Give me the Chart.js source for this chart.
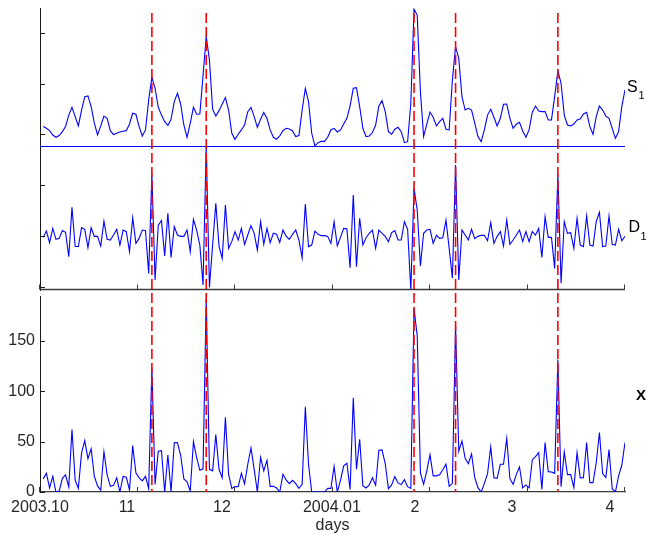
<!DOCTYPE html>
<html><head><meta charset="utf-8">
<script src="https://cdn.jsdelivr.net/npm/chart.js@4/dist/chart.umd.min.js"></script>
<style>html,body{margin:0;padding:0;background:#fff}#wrap{position:relative;width:647px;height:535px}</style>
</head><body><div id="wrap"><canvas id="c" width="647" height="535"></canvas></div>
<script>
// ---- data (day index 1..183, Oct 2003 - Mar 2004) ----
const seriesS1 = [
 7.6,5.9,3.6,-0.7,-3,-1.3,2.6,7.6,19,26.7,
 17.5,8.3,24,37.3,38,27.4,11,-0.7,8.3,18,
 15.8,3.6,-0.3,1,2.3,3,3.6,10.2,20.8,19.8,
 7.6,-1.7,4.3,34,56.4,45.5,26.7,19,12.5,8.6,
 14.9,32.3,40.6,30,9.2,-3,11,26.7,19.8,20,
 57.8,96.7,73.6,24.8,18,23.4,30,36.3,24,1,
 -5,0,4.3,9.2,22.4,26.7,17.5,6.9,14.9,21.5,
 15.8,4.3,-3,-5,-1.7,3.6,5.9,5.3,3.3,-2.3,
 -1.3,24,45.5,32.3,1,-11.5,-8.3,-7,-7,-3,
 4.3,5.9,2.3,4.3,10.2,15.8,28,45.5,46.2,27.4,
 5.9,-2.3,-1.7,1.7,9.2,28,33.3,22.4,2.6,0,
 5,6.9,2.6,-8.3,-7.3,30.7,123.8,118,42.2,-2.3,
 10,22,16.8,8.3,12.5,15.8,5,4.3,53.8,86.8,
 75,37.3,24,25.7,24,11,-2.3,-7.3,4.3,19,
 24.8,16.8,8.3,15.8,29.7,30,15.8,5.9,9.9,11.9,
 3.3,-3,4.3,21.8,28,23,22.4,22.4,14.2,14.2,
 37.3,63,50.5,19,9.2,8.3,10.2,14.2,15.2,20.1,
 21.8,7.6,0,17.5,28,24,18,15.8,5.9,-4,
 2.6,27.4,44
];
const seriesD1 = [
 -1,5.2,-6.2,7.8,-2.9,-2,5.6,3.9,-20,28.4,
 -10,-10,8.5,6.9,-11,8.5,0,0,-9.5,15,
 -2.9,-3.6,1.3,6.9,-8.5,6.2,4.6,-15,18.3,-6.9,
 -2,6.2,5.6,-36.3,61,-42.8,11,15.4,-19.3,22.6,
 -20.6,9.5,1.3,0,0,6.2,-15,16.7,6.2,-8.5,
 -47.7,88,-50,-8.5,32.4,-9.5,-21.6,30.7,-11.8,-5.2,
 4.6,-3.6,7.8,-7.8,1.3,10.5,3,-13.4,14.4,-7.8,
 7.8,-6.2,3,2,-5.9,6.2,0.3,-2.9,2,6.2,
 -3.6,-21,31.7,-10,-8.5,5.2,2,0.7,0.7,0,
 -6.9,14.4,-9.2,-1,7.8,7.5,-30.7,40.5,-29.8,17.7,
 -8.5,-1.3,3,6.2,-11.8,6.2,3,0,-5.2,3.6,
 5.6,-3.6,-3.6,14.4,6.9,-52.5,47,26,-29,3,
 6.2,6.9,-6.9,1,-2,-1.3,16,-11.8,-41,70,
 -42.8,6.2,1.3,-3.6,6.9,-2.3,0,1,1,-4.3,
 13.4,-6.9,0,4.6,-9.5,16,-7.8,-3.6,1.3,6.2,
 -5.2,4.6,-5.2,4.6,1.3,7.8,-20.6,19.3,-1,-1,
 -31.4,61,-46,14.4,3,3.6,-11.8,17.7,-8.5,-10,
 20,-8.5,-9.5,14.4,23.5,-10,-9.5,20,-7.8,-8.5,
 6.9,-4.3,0
];
const seriesX = [
 13,18.5,4,15.5,0,1,13.5,17,5,62,
 11.6,3.6,38.7,51,33,42.7,15.5,6,1.7,40,
 17,5.6,6.6,14,0,15.5,14.6,2,46,19,
 14,11,15.5,3.3,123,7.6,40.4,41,0,36.7,
 0,48.7,49,36.4,13,10,1,50,34.4,21.5,
 23,191,22.5,21,57,22.5,14,74,17.5,3.6,
 5.3,5.3,18.5,8,27.5,43.7,22.5,0,34.4,21,
 31.4,5.6,5.6,4,0,17.5,12,8.3,11.6,8.3,
 3.6,7.6,84.4,27.5,0,0,0,0,0,3.6,
 3.6,25.5,0,11.6,26,28.5,2.6,93.3,22.5,52.3,
 6.3,4,7,14.2,6.6,41.4,41.7,28,3.3,7,
 15.2,9,7.3,12.2,5.3,3.6,182,155,19,7.6,
 21,37,16,16,17,22,27.5,5.6,8.6,165,
 40.4,50.6,33.4,28,37.7,14.2,4.3,0,8.3,18.2,
 44.7,14.2,13.6,27.5,27.5,53,13.2,7.6,17.5,24.8,
 4,7,4,31.8,35,39,2.6,49,20.2,19.9,
 18.5,131,5.3,39.7,17.2,17.2,4.3,39,14,14.2,
 49,9.3,9.3,29,59,18.2,14.2,42,3.3,0,
 16,26.5,49
];
const eventDays = [35, 52, 117, 130, 162];
const xLabels = ['2003.10','11','12','2004.01','2','3','4'];
const xLabelPos = [0, 27.2, 56.9, 91.3, 117.3, 147.6, 178.3];
const xTickMarks = [0, 30.5, 61, 91.5, 122, 152.5, 183];
const xTickValues = [0, 50, 100, 150];
const s1Ticks = [0, 50, 100];
const d1Ticks = [-50, 0, 50];

const days = seriesX.map((_, i) => i + 1);
const pts = arr => arr.map((v, i) => ({x: days[i], y: v}));

const FONT = "'Liberation Sans', Arial, Helvetica, sans-serif";
const TXT = '#262626';

function seg(ctx, x1, y1, x2, y2) { ctx.beginPath(); ctx.moveTo(x1, y1); ctx.lineTo(x2, y2); ctx.stroke(); }

const decor = {
  id: 'decor',
  afterDatasetsDraw(chart) {
    const {ctx, chartArea: ca, scales} = chart;
    const xs = scales.x, yS = scales.yS, yD = scales.yD, yX = scales.yX;
    ctx.save();
    // blue baseline of S1 panel
    ctx.strokeStyle = '#0000ff'; ctx.lineWidth = 1.2;
    const ys = Math.round(yS.bottom) + 0.5;
    seg(ctx, ca.left, ys, ca.right, ys);
    // D1 panel bottom axis
    ctx.strokeStyle = '#3a3a3a'; ctx.lineWidth = 1.3;
    const yb = Math.round(yD.bottom) - 0.5;
    seg(ctx, ca.left, yb, ca.right, yb);
    // inward x tick marks
    ctx.lineWidth = 1;
    for (const v of xTickMarks) {
      const px = Math.round(xs.getPixelForValue(v)) - 0.5;
      seg(ctx, px, yb, px, yb - 5);
      seg(ctx, px, yX.bottom, px, yX.bottom - 5);
    }
    // inward y tick marks
    ctx.strokeStyle = '#1a1a1a';
    const yt = [[yS, s1Ticks], [yD, d1Ticks], [yX, xTickValues]];
    for (const [sc, arr] of yt) {
      for (const v of arr) {
        const py = Math.round(sc.getPixelForValue(v)) + 0.5;
        seg(ctx, ca.left, py, ca.left + 5, py);
      }
    }
    // red dashed event lines
    ctx.strokeStyle = '#ff0000'; ctx.lineWidth = 1.6; ctx.setLineDash([10, 4]);
    for (const d of eventDays) {
      const px = xs.getPixelForValue(d);
      seg(ctx, px, ca.top + 5, px, yX.bottom);
    }
    ctx.setLineDash([]);
    // right side labels
    ctx.fillStyle = '#000'; ctx.textBaseline = 'alphabetic'; ctx.textAlign = 'left';
    const rx = ca.right + 2;
    ctx.font = '16px ' + FONT; ctx.fillText('S', rx, yS.getPixelForValue(41.5));
    ctx.font = '11px ' + FONT; ctx.fillText('1', rx + 11.5, yS.getPixelForValue(34.5));
    ctx.font = '16px ' + FONT; ctx.fillText('D', rx + 1.5, yD.getPixelForValue(4.5));
    ctx.font = '11px ' + FONT; ctx.fillText('1', rx + 13.5, yD.getPixelForValue(-3.7));
    ctx.font = 'bold 15px ' + FONT; ctx.fillText('X', rx + 9, yX.getPixelForValue(91));
    ctx.restore();
  }
};

const yCommon = (extra) => Object.assign({
  type: 'linear', position: 'left', stack: 'panels', offset: false,
  grid: {display: false, drawTicks: false},
  border: {display: true, color: '#1a1a1a', width: 1},
  ticks: {display: false},
  afterFit: s => { s.width = 40; s.paddingTop = 0; s.paddingBottom = 0; }
}, extra);

new Chart(document.getElementById('c'), {
  type: 'line',
  data: {
    datasets: [
      {label: 'X', data: pts(seriesX), xAxisID: 'x', yAxisID: 'yX', borderColor: '#0000ff', borderWidth: 1.1, pointRadius: 0, tension: 0, fill: false},
      {label: 'D1', data: pts(seriesD1), xAxisID: 'x', yAxisID: 'yD', borderColor: '#0000ff', borderWidth: 1.1, pointRadius: 0, tension: 0, fill: false},
      {label: 'S1', data: pts(seriesS1), xAxisID: 'x', yAxisID: 'yS', borderColor: '#0000ff', borderWidth: 1.1, pointRadius: 0, tension: 0, fill: false}
    ]
  },
  options: {
    responsive: false, animation: false, devicePixelRatio: 1,
    layout: {padding: {left: 0, right: 22, top: 8, bottom: 0}},
    plugins: {legend: {display: false}, tooltip: {enabled: false}},
    scales: {
      x: {
        type: 'linear', position: 'bottom', min: 0, max: 183,
        grid: {display: false, drawTicks: false},
        border: {display: true, color: '#3a3a3a', width: 1.3},
        afterBuildTicks: s => { s.ticks = xLabelPos.map(v => ({value: v})); },
        ticks: {autoSkip: false, maxRotation: 0, padding: 6, color: TXT, font: {family: FONT, size: 16},
                callback: (v, i) => xLabels[i]},
        title: {display: true, text: 'days', color: TXT, font: {family: FONT, size: 16}, padding: 0},
        afterFit: s => { s.height = 43; s.paddingLeft = 0; s.paddingRight = 0; }
      },
      yX: yCommon({min: 0, max: 194.3, stackWeight: 196,
        afterBuildTicks: s => { s.ticks = xTickValues.map(v => ({value: v})); },
        ticks: {display: true, padding: 5, color: TXT, font: {family: FONT, size: 16}}}),
      yGap: yCommon({min: 0, max: 1, stackWeight: 6, border: {display: false}}),
      yD: yCommon({min: -52.6, max: 88.6, stackWeight: 144}),
      yS: yCommon({min: -11.6, max: 125, stackWeight: 138})
    }
  },
  plugins: [decor]
});
</script></body></html>
